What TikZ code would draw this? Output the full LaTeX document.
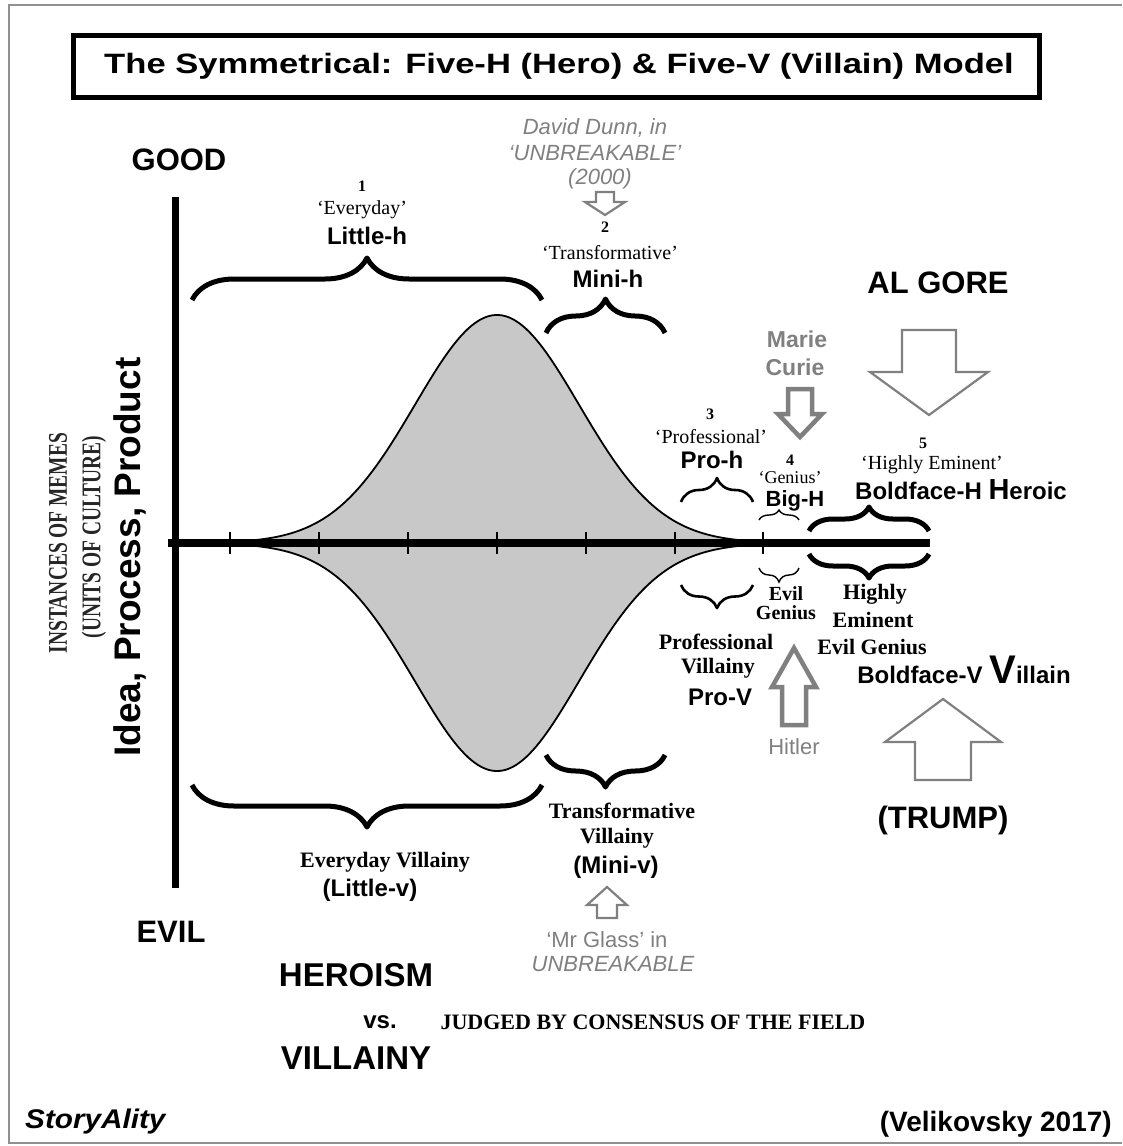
\documentclass[tikz,border=0pt]{standalone}
\usepackage{fontspec}
\setmainfont{Liberation Serif}
\setsansfont{Liberation Sans}
\usetikzlibrary{decorations.pathreplacing}
\newcommand\fsz[1]{\fontsize{#1}{#1}\selectfont}
\definecolor{note}{HTML}{808080}
\definecolor{bell}{HTML}{C8C8C8}
\definecolor{frame}{HTML}{909090}
% hollow block arrow: x, start y, head base y, tip y, stem half width, head half width, style
\newcommand\hollowarrow[7]{%
  \draw[#7] (#1-#5,#2) -- (#1+#5,#2) -- (#1+#5,#3) -- (#1+#6,#3) -- (#1,#4)
    -- (#1-#6,#3) -- (#1-#5,#3) -- cycle;}
% bell profile used for both halves of the distribution
\def\bellsigma{82}
\begin{document}
\begin{tikzpicture}[x=1pt,y=-1pt,
  every node/.style={inner sep=0pt, align=center},
  big/.style={font=\sffamily\bfseries\fsz{#1}},
  bsans/.style={font=\sffamily\bfseries\fsz{24}},
  qserif/.style={font=\rmfamily\fsz{20}},
  nserif/.style={font=\rmfamily\bfseries\fsz{16}},
  vserif/.style={font=\rmfamily\bfseries\fsz{22}},
  vserifpair/.style={font=\rmfamily\bfseries\fontsize{20}{19}\selectfont},
  grey/.style={text=note, font=\sffamily\fsz{22}},
  greyit/.style={text=note, font=\sffamily\itshape\fsz{22}},
  heavybrace/.style={line width=5pt, line join=round, decorate, decoration={brace, amplitude=#1}},
  midbrace/.style={line width=2.6pt, line join=round, decorate, decoration={brace, amplitude=#1}},
  thinbrace/.style={line width=1.4pt, decorate, decoration={brace, amplitude=#1}},
  fatarrow/.style={draw=note, line width=4.5pt, line join=miter},
  slimarrow/.style={draw=note, line width=2.2pt, line join=miter},
]
\useasboundingbox (0,0) rectangle (1122,1146);
\fill[white] (0,0) rectangle (1122,1146);

% outer frame
\draw[frame, line width=2pt] (1122,5) -- (9,5) -- (9,1143) -- (1122,1143);

% title
\draw[line width=5pt] (73,35) rectangle (1039,97);
\node (title) at (559,66)
  {\scalebox{1.235}[1]{\sffamily\bfseries\fsz{28}The Symmetrical: Five-H (Hero) \& Five-V (Villain) Model}};

% bell curve, mirrored about the axis
\fill[bell] plot[domain=226:768, samples=160] (\x, {543-228*exp(-((\x-497)/\bellsigma)^2/2)}) -- cycle;
\fill[bell] plot[domain=226:768, samples=160] (\x, {543+228*exp(-((\x-497)/\bellsigma)^2/2)}) -- cycle;
\draw[line width=1.8pt] plot[domain=226:768, samples=160] (\x, {543-228*exp(-((\x-497)/\bellsigma)^2/2)});
\draw[line width=1.8pt] plot[domain=226:768, samples=160] (\x, {543+228*exp(-((\x-497)/\bellsigma)^2/2)});

% axes and ticks
\draw[line width=7pt] (175,197) -- (175,888);
\foreach \t in {230,319,408,497,586,675,763}
  \draw[line width=1.4pt] (\t,532) -- (\t,554);
\draw[line width=8pt] (168,543) -- (930,543);

% vertical axis labels
\node[rotate=90, text=black!85] (memes) at (58,543)
  {\scalebox{0.72}[1]{\rmfamily\bfseries\fsz{27}INSTANCES OF MEMES}};
\node[rotate=90, text=black!85] (units) at (94,537)
  {\scalebox{0.72}[1]{\rmfamily\bfseries\fsz{27}(UNITS OF CULTURE)}};
\node[rotate=90, big=37] (ipp) at (130,557) {Idea, Process, Product};

\node[big=31] (good) at (179,160) {GOOD};
\node[big=31] (evil) at (171,932) {EVIL};

% upper braces (heroism)
\draw[heavybrace=42pt] (192,300) -- (542,300);
\draw[heavybrace=34pt] (546,333) -- (665,333);
\draw[midbrace=24pt] (681,502) -- (753,502);
\draw[thinbrace=10pt] (759,520) -- (799,520);
\draw[heavybrace=24pt] (809,531) -- (929,531);

% lower braces (villainy)
\draw[heavybrace=42pt] (542,785) -- (192,785);
\draw[heavybrace=32pt] (665,755) -- (546,755);
\draw[midbrace=23pt] (753,585) -- (681,585);
\draw[thinbrace=14pt] (799,568) -- (759,568);
\draw[heavybrace=24pt] (929,554) -- (809,554);

% level 1
\node[nserif] (n1) at (362,186) {1};
\node[qserif] (q1) at (362,210) {`Everyday'};
\node[bsans] (h1) at (367,236) {Little-h};

% level 2 and its example
\node[greyit] (dd1) at (595,128) {David Dunn, in};
\node[greyit] (dd2) at (595,153) {`UNBREAKABLE'};
\node[greyit] (dd3) at (600,179) {(2000)};
\hollowarrow{605}{192}{202}{215}{9}{20}{slimarrow}
\node[nserif] (n2) at (605,227) {2};
\node[qserif] (q2) at (610,253) {`Transformative'};
\node[bsans] (h2) at (608,279) {Mini-h};

% level 3
\node[nserif] (n3) at (710,414) {3};
\node[qserif] (q3) at (711,437) {`Professional'};
\node[bsans] (h3) at (712,460) {Pro-h};

% level 4 and its example
\node[font=\sffamily\bfseries\fsz{23}, text=note] (mc1) at (797,339) {Marie};
\node[font=\sffamily\bfseries\fsz{23}, text=note] (mc2) at (795,367) {Curie};
\hollowarrow{800}{389}{414}{437}{12}{22}{fatarrow}
\node[nserif] (n4) at (790,460) {4};
\node[font=\rmfamily\fsz{18}] (q4) at (790,478) {`Genius'};
\node[font=\sffamily\bfseries\fsz{22}] (h4) at (795,501) {Big-H};

% level 5 and its example
\node[big=31] (gore) at (938,283) {AL GORE};
\hollowarrow{929}{330}{372}{415}{27}{59}{slimarrow}
\node[nserif] (n5) at (923,443) {5};
\node[qserif] (q5) at (932,465) {`Highly Eminent'};
\node[bsans] (h5) at (961,490) {Boldface-H {\fsz{29}H}eroic};

% villainy labels
\node[vserifpair] (v4) at (786,603) {Evil\\Genius};
\node[vserif] (v5a) at (875,594) {Highly};
\node[vserif] (v5b) at (873,620) {Eminent};
\node[vserif] (v5c) at (872,647) {Evil Genius};
\node[vserif] (v3a) at (716,642) {Professional};
\node[vserif] (v3b) at (718,668) {Villainy};
\node[bsans] (v3c) at (720,697) {Pro-V};
\node[bsans] (v5d) at (964,670) {Boldface-V {\fsz{40}V}illain};

% villainy examples
\hollowarrow{794}{725}{687}{648}{12}{22}{fatarrow}
\node[grey] (hitler) at (794,747) {Hitler};
\hollowarrow{943}{780}{742}{699}{28}{58}{slimarrow}
\node[big=31] (trump) at (943,820) {(TRUMP)};

\node[vserif] (v2a) at (622,811) {Transformative};
\node[vserif] (v2b) at (617,838) {Villainy};
\node[bsans] (v2c) at (616,867) {(Mini-v)};
\hollowarrow{607}{918}{905}{887}{10}{20}{slimarrow}
\node[grey] (mg1) at (607,940) {`Mr Glass' in};
\node[greyit] (mg2) at (613,964) {UNBREAKABLE};

\node[vserif] (v1a) at (385,862) {Everyday Villainy};
\node[bsans] (v1b) at (370,890) {(Little-v)};

% bottom captions
\node[big=33] (heroism) at (356,975) {HEROISM};
\node[big=24] (vs) at (380,1022) {vs.};
\node[big=33] (villainy) at (356,1058) {VILLAINY};
\node[font=\rmfamily\bfseries\fsz{22}] (judged) at (653,1022) {JUDGED BY CONSENSUS OF THE FIELD};
\node[anchor=west] (brand) at (25,1122)
  {\scalebox{1.1}[1]{\sffamily\bfseries\itshape\fsz{27}StoryAlity}};
\node[big=28, anchor=east] (cite) at (1112,1124) {(Velikovsky 2017)};
\end{tikzpicture}
\end{document}
